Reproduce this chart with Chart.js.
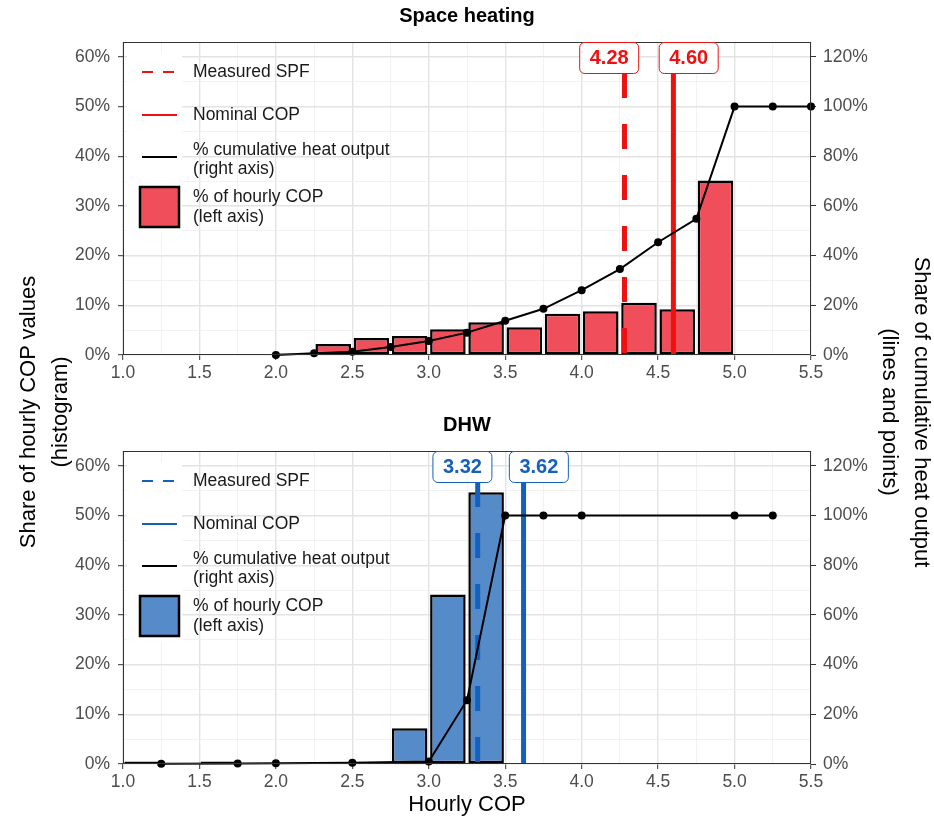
<!DOCTYPE html>
<html>
<head>
<meta charset="utf-8">
<script src="https://cdn.jsdelivr.net/npm/chart.js@4.4.1/dist/chart.umd.min.js"></script>
<style>
  body { margin: 0; background: #fff; }
  #wrap { position: relative; width: 934px; height: 822px; font-family: "Liberation Sans", Arial, sans-serif; }
  canvas { position: absolute; left: 0; }
  .ytitle { position: absolute; width: 520px; text-align: center; font-size: 22px; line-height: 32px; color: #000; }
</style>
</head>
<body>
<div id="wrap">
  <canvas id="heating" width="934" height="400" style="top:0"></canvas>
  <canvas id="dhw" width="934" height="422" style="top:400px"></canvas>
  <div class="ytitle" style="left:44px;top:412px;transform:translate(-50%,-50%) rotate(-90deg)">Share of hourly COP values<br>(histogram)</div>
  <div class="ytitle" style="left:906px;top:412px;transform:translate(-50%,-50%) rotate(90deg)">Share of cumulative heat output<br>(lines and points)</div>
</div>
<script>
// ---- data ----
// Space heating: histogram bins (bin centre) and share of hours, %
const heatingBins  = [2.125, 2.375, 2.625, 2.875, 3.125, 3.375, 3.625, 3.875, 4.125, 4.375, 4.625, 4.875, 5.125, 5.375];
const heatingShare = [0.3, 2.2, 3.4, 3.8, 5.2, 6.6, 5.6, 8.3, 8.8, 10.5, 9.2, 35.1, 0.05, 0.05];
// Space heating: cumulative heat output, %
const heatingCumX  = [2.0, 2.25, 2.5, 2.75, 3.0, 3.25, 3.5, 3.75, 4.0, 4.25, 4.5, 4.75, 5.0, 5.25, 5.5];
const heatingCum   = [0, 0.7, 1.3, 3.2, 5.6, 9.0, 13.8, 18.6, 26.1, 34.6, 45.4, 54.8, 100, 100, 100];
const heatingSPF   = 4.28;
const heatingNominal = 4.60;

// DHW
const dhwBins  = [1.125, 1.375, 1.625, 1.875, 2.625, 2.875, 3.125, 3.375, 3.625, 3.875, 4.875, 5.125];
const dhwShare = [0.5, 0.05, 0.5, 0.05, 0.3, 7.2, 34.1, 54.7, 0.1, 0.05, 0.1, 0.05];
const dhwCumX  = [1.25, 1.75, 2.0, 2.5, 3.0, 3.25, 3.5, 3.75, 4.0, 5.0, 5.25];
const dhwCum   = [0.1, 0.2, 0.3, 0.5, 1.0, 25.7, 100, 100, 100, 100, 100];
const dhwSPF     = 3.32;
const dhwNominal = 3.62;

// axis ticks
const xTicks  = [1, 1.25, 1.5, 1.75, 2, 2.25, 2.5, 2.75, 3, 3.25, 3.5, 3.75, 4, 4.25, 4.5, 4.75, 5, 5.25, 5.5];
const yTicks  = [0, 5, 10, 15, 20, 25, 30, 35, 40, 45, 50, 55, 60];
const y2Ticks = [0, 20, 40, 60, 80, 100, 120];

Chart.defaults.font.family = '"Liberation Sans", Arial, sans-serif';

const FONT = '"Liberation Sans", Arial, sans-serif';

function drawLabel(ctx, cx, top, text, color) {
  const w = 59, h = 31;
  ctx.fillStyle = '#fff';
  ctx.strokeStyle = color;
  ctx.lineWidth = 1;
  ctx.beginPath();
  ctx.roundRect(cx - w / 2, top + 0.5, w, h, 5);
  ctx.fill();
  ctx.stroke();
  ctx.fillStyle = color;
  ctx.font = 'bold 20px ' + FONT;
  ctx.textAlign = 'center';
  ctx.textBaseline = 'middle';
  ctx.fillText(text, cx, top + h / 2 + 1);
}

// vertical SPF / COP lines, labels, legend, border, titles
const panelDecor = {
  id: 'panelDecor',
  afterDatasetDraw(chart, args, opts) {
    if (args.index !== 0) return;
    const { ctx, chartArea: a, scales: { x } } = chart;
    ctx.save();
    ctx.beginPath();
    ctx.rect(a.left, a.top, a.width, a.height);
    ctx.clip();
    ctx.strokeStyle = opts.color;
    ctx.lineWidth = 5;
    const xs = x.getPixelForValue(opts.spf);
    ctx.setLineDash([25, 26]);
    ctx.beginPath();
    ctx.moveTo(xs, a.top + 31);
    ctx.lineTo(xs, a.bottom);
    ctx.stroke();
    ctx.setLineDash([]);
    const xn = x.getPixelForValue(opts.nominal);
    ctx.beginPath();
    ctx.moveTo(xn, a.top);
    ctx.lineTo(xn, a.bottom);
    ctx.stroke();
    ctx.restore();
  },
  afterDraw(chart, args, opts) {
    const { ctx, chartArea: a, scales: { x } } = chart;
    ctx.save();
    // panel border
    ctx.strokeStyle = '#333';
    ctx.lineWidth = 1;
    ctx.strokeRect(a.left + 0.5, a.top + 0.5, a.width - 1, a.height - 1);

    // value labels
    drawLabel(ctx, x.getPixelForValue(opts.spf - 0.1), a.top, opts.spf.toFixed(2), opts.color);
    drawLabel(ctx, x.getPixelForValue(opts.nominal + 0.1), a.top, opts.nominal.toFixed(2), opts.color);

    // legend
    const L = a.left, T = a.top;
    ctx.fillStyle = '#fff';
    ctx.fillRect(L + 4, T + 11, 55, 180);
    ctx.lineWidth = 2.2;
    ctx.strokeStyle = opts.color;
    ctx.setLineDash([11, 10]);
    ctx.beginPath(); ctx.moveTo(L + 19, T + 30); ctx.lineTo(L + 53, T + 30); ctx.stroke();
    ctx.setLineDash([]);
    ctx.beginPath(); ctx.moveTo(L + 19, T + 73); ctx.lineTo(L + 54, T + 73); ctx.stroke();
    ctx.strokeStyle = '#000';
    ctx.beginPath(); ctx.moveTo(L + 19, T + 115); ctx.lineTo(L + 54, T + 115); ctx.stroke();
    ctx.fillStyle = opts.fill;
    ctx.fillRect(L + 17, T + 145, 39, 40);
    ctx.lineWidth = 2.5;
    ctx.strokeRect(L + 17, T + 145, 39, 40);

    ctx.fillStyle = '#1a1a1a';
    ctx.font = '17.5px ' + FONT;
    ctx.textAlign = 'left';
    ctx.textBaseline = 'middle';
    ctx.fillText('Measured SPF', L + 70, T + 30);
    ctx.fillText('Nominal COP', L + 70, T + 73);
    ctx.fillText('% cumulative heat output', L + 70, T + 108);
    ctx.fillText('(right axis)', L + 70, T + 127);
    ctx.fillText('% of hourly COP', L + 70, T + 155);
    ctx.fillText('(left axis)', L + 70, T + 175);

    // panel title
    ctx.fillStyle = '#000';
    ctx.font = 'bold 20px ' + FONT;
    ctx.textAlign = 'center';
    ctx.fillText(opts.title, (a.left + a.right) / 2, a.top - 26);

    if (opts.xTitle) {
      ctx.font = '22px ' + FONT;
      ctx.fillText(opts.xTitle, (a.left + a.right) / 2, a.bottom + 41);
    }
    ctx.restore();
  }
};

function makePanel(canvasId, p) {
  const canvas = document.getElementById(canvasId);
  const xAxisHeight = canvas.height - p.plotBottom;
  return new Chart(canvas, {
    type: 'bar',
    data: {
      datasets: [{
        type: 'bar',
        data: p.bins.map((b, i) => ({ x: b, y: p.share[i] })),
        backgroundColor: p.fill,
        borderColor: '#000',
        borderWidth: 2.5,
        borderSkipped: false,
        categoryPercentage: 1,
        barPercentage: 0.93,
        yAxisID: 'y',
        order: 2
      }, {
        type: 'line',
        data: p.cumX.map((v, i) => ({ x: v, y: p.cum[i] })),
        borderColor: '#000',
        borderWidth: 2,
        pointRadius: 4,
        pointBackgroundColor: '#000',
        pointBorderWidth: 0,
        tension: 0,
        yAxisID: 'y2',
        clip: false,
        order: 1
      }]
    },
    options: {
      responsive: false,
      animation: false,
      layout: { padding: { top: p.plotTop, left: 0, right: 0, bottom: 0 } },
      plugins: {
        legend: { display: false },
        tooltip: { enabled: false },
        panelDecor: {
          color: p.line, fill: p.fill, spf: p.spf, nominal: p.nominal,
          title: p.title, xTitle: p.xTitle || ''
        }
      },
      scales: {
        x: {
          type: 'linear',
          min: 1, max: 5.5,
          offset: false,
          afterBuildTicks: s => { s.ticks = xTicks.map(v => ({ value: v })); },
          afterFit: s => { s.height = xAxisHeight; },
          grid: {
            offset: false,
            color: c => (c.tick && c.tick.value % 0.5 === 0) ? '#e3e3e3' : '#efefef',
            lineWidth: c => (c.tick && c.tick.value % 0.5 === 0) ? 1.4 : 0.8,
            tickColor: c => (c.tick && c.tick.value % 0.5 === 0) ? '#333' : 'rgba(0,0,0,0)',
            tickLength: 5,
            tickWidth: 1
          },
          border: { display: false },
          ticks: {
            autoSkip: false,
            maxRotation: 0,
            padding: 3,
            color: '#4d4d4d',
            font: { size: 17.5 },
            callback: v => (v % 0.5 === 0) ? v.toFixed(1) : ''
          }
        },
        y: {
          position: 'left',
          min: 0, max: 63,
          afterBuildTicks: s => { s.ticks = yTicks.map(v => ({ value: v })); },
          afterFit: s => { s.width = 123; },
          grid: {
            color: c => (c.tick && c.tick.value % 10 === 0) ? '#e3e3e3' : '#efefef',
            lineWidth: c => (c.tick && c.tick.value % 10 === 0) ? 1.4 : 0.8,
            tickColor: c => (c.tick && c.tick.value % 10 === 0) ? '#333' : 'rgba(0,0,0,0)',
            tickLength: 5,
            tickWidth: 1
          },
          border: { display: false },
          ticks: {
            autoSkip: false,
            padding: 8,
            color: '#4d4d4d',
            font: { size: 17.5 },
            callback: v => (v % 10 === 0) ? v + '%' : ''
          }
        },
        y2: {
          position: 'right',
          min: 0, max: 126,
          afterBuildTicks: s => { s.ticks = y2Ticks.map(v => ({ value: v })); },
          afterFit: s => { s.width = 123; },
          grid: {
            drawOnChartArea: false,
            tickColor: '#333',
            tickLength: 5,
            tickWidth: 1
          },
          border: { display: false },
          ticks: {
            autoSkip: false,
            padding: 7,
            color: '#4d4d4d',
            font: { size: 17.5 },
            callback: v => v + '%'
          }
        }
      }
    },
    plugins: [panelDecor]
  });
}

makePanel('heating', {
  bins: heatingBins, share: heatingShare, cumX: heatingCumX, cum: heatingCum,
  spf: heatingSPF, nominal: heatingNominal,
  fill: '#f04e5a', line: '#ee1111', title: 'Space heating',
  plotTop: 42, plotBottom: 355
});

makePanel('dhw', {
  bins: dhwBins, share: dhwShare, cumX: dhwCumX, cum: dhwCum,
  spf: dhwSPF, nominal: dhwNominal,
  fill: '#568bc9', line: '#1560bd', title: 'DHW', xTitle: 'Hourly COP',
  plotTop: 51, plotBottom: 364
});
</script>
</body>
</html>
